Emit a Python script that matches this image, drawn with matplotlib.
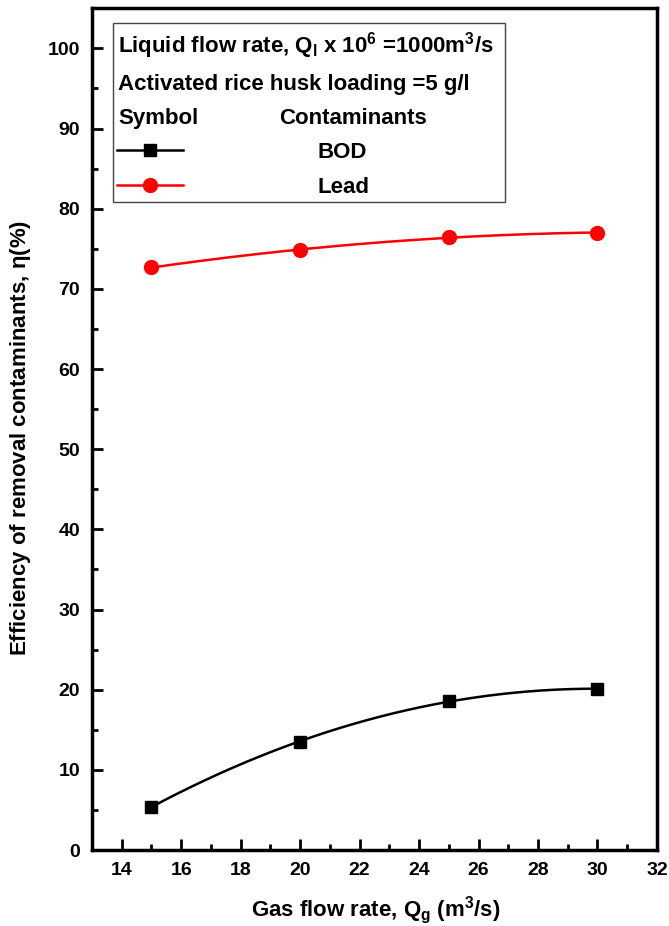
import numpy as np
import matplotlib
matplotlib.use("Agg")
import matplotlib.pyplot as plt
from matplotlib.patches import Rectangle

plt.rcParams['font.family'] = ['Liberation Sans', 'DejaVu Sans']
plt.rcParams['font.weight'] = 'bold'
plt.rcParams['axes.labelweight'] = 'bold'
plt.rcParams['mathtext.fontset'] = 'custom'
plt.rcParams['mathtext.rm'] = 'Liberation Sans:bold'
plt.rcParams['mathtext.it'] = 'Liberation Sans:bold'
plt.rcParams['mathtext.bf'] = 'Liberation Sans:bold'
plt.rcParams['mathtext.default'] = 'rm'

# data
gas_flow = [15, 20, 25, 30]
bod = [5.4, 13.5, 18.6, 20.1]
lead = [72.7, 74.8, 76.5, 77.0]

fig = plt.figure(figsize=(6.69, 9.26), dpi=100)
ax = fig.add_axes([0.1375, 0.082, 0.8445, 0.909])

xs = np.linspace(15, 30, 200)
for ys, col, mk, ms in [(bod, 'black', 's', 9), (lead, 'red', 'o', 10)]:
    fit = np.polyfit(gas_flow, ys, 2)
    ax.plot(xs, np.polyval(fit, xs), color=col, lw=1.8)
    ax.plot(gas_flow, ys, linestyle='none', marker=mk, color=col, ms=ms)

ax.set_xlim(13, 32)
ax.set_ylim(0, 105)
ax.set_xticks(range(14, 33, 2))
ax.set_xticks(range(13, 32, 2), minor=True)
ax.set_yticks(range(0, 101, 10))
ax.set_yticks(range(5, 106, 10), minor=True)
ax.tick_params(which='both', direction='in', width=2, labelsize=14, pad=8.5)
ax.tick_params(which='major', length=8)
ax.tick_params(which='minor', length=4.5)
for s in ax.spines.values():
    s.set_linewidth(2.5)

ax.set_xlabel(r"Gas flow rate, Q$_{g}$ (m$^{3}$/s)", fontsize=16)
ax.set_ylabel(r"Efficiency of removal contaminants, $\eta$(%)", fontsize=16)
ax.xaxis.set_label_coords(0.503, -0.052)
ax.yaxis.set_label_coords(-0.104, 0.49)

# legend box
fs = 16
ax.add_patch(Rectangle((0.037, 0.770), 0.694, 0.213, transform=ax.transAxes,
                       fill=False, lw=1.0, edgecolor='#444444', zorder=5))
ax.text(0.046, 0.956, r"Liquid flow rate, Q$_{l}$ x 10$^{6}$ =1000m$^{3}$/s",
        transform=ax.transAxes, fontsize=fs, va='center')
ax.text(0.046, 0.909, "Activated rice husk loading =5 g/l",
        transform=ax.transAxes, fontsize=fs, va='center')
ax.text(0.046, 0.869, "Symbol", transform=ax.transAxes, fontsize=fs, va='center')
ax.text(0.331, 0.869, "Contaminants", transform=ax.transAxes, fontsize=fs, va='center')

h1, = ax.plot([], [], color='black', marker='s', ms=9, lw=1.8)
h2, = ax.plot([], [], color='red', marker='o', ms=10, lw=1.8)
ax.legend([h1, h2], ["BOD", "Lead"], loc='upper left', bbox_to_anchor=(0.044, 0.841),
          frameon=False, fontsize=fs, handlelength=2.97, handletextpad=6.08,
          labelspacing=0.6, borderaxespad=0, borderpad=0)

fig.savefig("out.png", dpi=100)
